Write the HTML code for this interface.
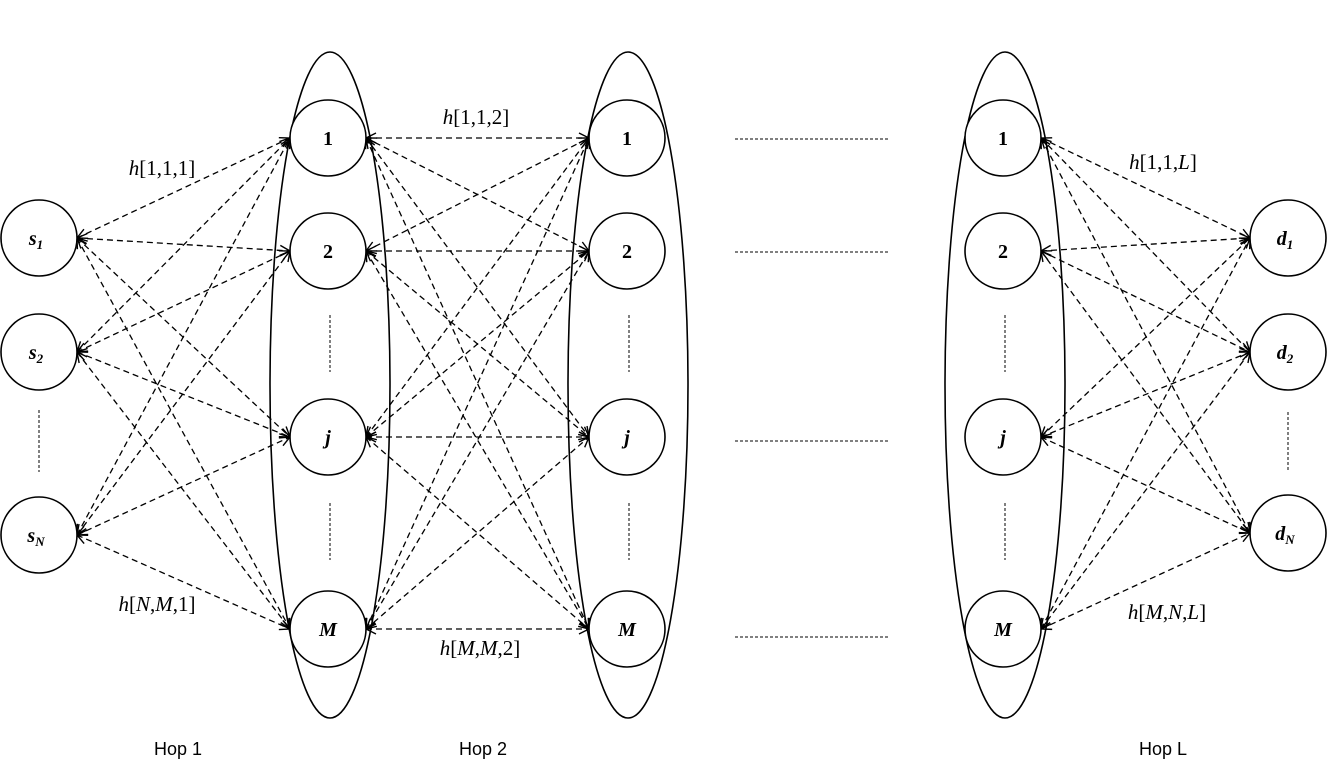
<!DOCTYPE html>
<html><head><meta charset="utf-8"><style>
body{margin:0;background:#fff}
svg{display:block}
text{font-family:"Liberation Serif",serif;}
</style></head><body>
<svg id="s" width="1328" height="780" viewBox="0 0 1328 780" xmlns="http://www.w3.org/2000/svg">
<defs>
<marker id="a" viewBox="0 0 12 12" refX="11" refY="6" markerWidth="12" markerHeight="12" markerUnits="userSpaceOnUse" orient="auto-start-reverse">
<path d="M1,1 L11,6 L1,11" fill="none" stroke="#000" stroke-width="1.4"/>
</marker>
</defs>
<g fill="none" stroke="#000" stroke-width="1.6">
<ellipse cx="330" cy="385" rx="60" ry="333"/>
<ellipse cx="628" cy="385" rx="60" ry="333"/>
<ellipse cx="1005" cy="385" rx="60" ry="333"/>
</g>
<g id="edges" stroke="#000" stroke-width="1.3" stroke-dasharray="6,4" fill="none"></g>
<g stroke="#000" stroke-width="1" stroke-dasharray="3,2">
<line x1="735" y1="139" x2="890" y2="139"/>
<line x1="735" y1="252" x2="890" y2="252"/>
<line x1="735" y1="441" x2="890" y2="441"/>
<line x1="735" y1="637" x2="890" y2="637"/>
<line x1="39" y1="410" x2="39" y2="472"/>
<line x1="1288" y1="412" x2="1288" y2="472"/>
<line x1="330" y1="315" x2="330" y2="372"/>
<line x1="330" y1="503" x2="330" y2="560"/>
<line x1="629" y1="315" x2="629" y2="372"/>
<line x1="629" y1="503" x2="629" y2="560"/>
<line x1="1005" y1="315" x2="1005" y2="372"/>
<line x1="1005" y1="503" x2="1005" y2="560"/>
</g>
<g id="nodes" fill="#fff" stroke="#000" stroke-width="1.6"></g>
<g font-size="20" font-style="italic" font-weight="bold" text-anchor="middle">
<text x="36" y="245">s<tspan font-size="13" dy="4">1</tspan></text>
<text x="36" y="359">s<tspan font-size="13" dy="4">2</tspan></text>
<text x="36" y="542">s<tspan font-size="13" dy="4">N</tspan></text>
<text x="1285" y="245">d<tspan font-size="13" dy="4">1</tspan></text>
<text x="1285" y="359">d<tspan font-size="13" dy="4">2</tspan></text>
<text x="1285" y="540">d<tspan font-size="13" dy="4">N</tspan></text>
</g>
<g font-size="20" font-weight="bold" text-anchor="middle">
<text x="328" y="145">1</text><text x="328" y="258">2</text><text x="328" y="444" font-style="italic">j</text><text x="328" y="636" font-style="italic">M</text>
<text x="627" y="145">1</text><text x="627" y="258">2</text><text x="627" y="444" font-style="italic">j</text><text x="627" y="636" font-style="italic">M</text>
<text x="1003" y="145">1</text><text x="1003" y="258">2</text><text x="1003" y="444" font-style="italic">j</text><text x="1003" y="636" font-style="italic">M</text>
</g>
<g font-size="21" text-anchor="middle">
<text x="162" y="175"><tspan font-style="italic">h</tspan>[1,1,1]</text>
<text x="476" y="124"><tspan font-style="italic">h</tspan>[1,1,2]</text>
<text x="1163" y="169"><tspan font-style="italic">h</tspan>[1,1,<tspan font-style="italic">L</tspan>]</text>
<text x="157" y="611"><tspan font-style="italic">h</tspan>[<tspan font-style="italic">N</tspan>,<tspan font-style="italic">M</tspan>,1]</text>
<text x="480" y="655"><tspan font-style="italic">h</tspan>[<tspan font-style="italic">M</tspan>,<tspan font-style="italic">M</tspan>,2]</text>
<text x="1167" y="619"><tspan font-style="italic">h</tspan>[<tspan font-style="italic">M</tspan>,<tspan font-style="italic">N</tspan>,<tspan font-style="italic">L</tspan>]</text>
</g>
<g font-family="Liberation Sans,sans-serif" font-size="18" text-anchor="middle">
<text x="178" y="755" style="font-family:'Liberation Sans',sans-serif">Hop 1</text>
<text x="483" y="755" style="font-family:'Liberation Sans',sans-serif">Hop 2</text>
<text x="1163" y="755" style="font-family:'Liberation Sans',sans-serif">Hop L</text>
</g>
</svg>
<script>
(function(){
var NS="http://www.w3.org/2000/svg",r=38;
var S=[238,352,535],D=[238,352,533],R=[138,251,437,629];
var cols={s:39,c1:328,c2:627,c3:1003,d:1288};
var e=document.getElementById("edges"),n=document.getElementById("nodes");
function ln(x1,y1,x2,y2){var l=document.createElementNS(NS,"line");l.setAttribute("x1",x1);l.setAttribute("y1",y1);l.setAttribute("x2",x2);l.setAttribute("y2",y2);l.setAttribute("marker-start","url(#a)");l.setAttribute("marker-end","url(#a)");e.appendChild(l);}
function c(x,y){var k=document.createElementNS(NS,"circle");k.setAttribute("cx",x);k.setAttribute("cy",y);k.setAttribute("r",r);n.appendChild(k);}
S.forEach(function(a){R.forEach(function(b){ln(cols.s+r,a,cols.c1-r,b);});});
R.forEach(function(a){R.forEach(function(b){ln(cols.c1+r,a,cols.c2-r,b);});});
R.forEach(function(a){D.forEach(function(b){ln(cols.c3+r,a,cols.d-r,b);});});
S.forEach(function(y){c(cols.s,y)});D.forEach(function(y){c(cols.d,y)});
R.forEach(function(y){c(cols.c1,y);c(cols.c2,y);c(cols.c3,y);});
})();
</script>
</body></html>
